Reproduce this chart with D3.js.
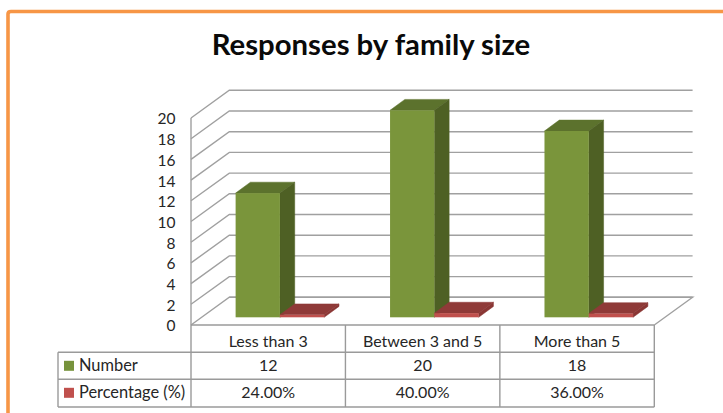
<!DOCTYPE html>
<html><head><meta charset="utf-8">
<script src="https://cdn.jsdelivr.net/npm/d3@7"></script>
<style>html,body{margin:0;padding:0;background:#fff;overflow:hidden}svg{display:block}text{font-family:Lato,"Open Sans",sans-serif;fill:#262626}</style>
</head><body><div id="c"></div>
<script>
const title = "Responses by family size";
const categories = ["Less than 3","Between 3 and 5","More than 5"];
const seriesNames = ["Number","Percentage (%)"];
const numberValues = [12,20,18];
const percentValues = [0.24,0.40,0.36];
const percentLabels = ["24.00%","40.00%","36.00%"];
const yTicks = [0,2,4,6,8,10,12,14,16,18,20];
const colors = {
  Number:{front:"#7a953b",top:"#5c722d",side:"#4e6024",legend:"#77933c"},
  "Percentage (%)":{front:"#c0504d",top:"#8f3a38",side:"#8a3634",legend:"#c0504d"}
};

const W=723,H=413;
const svg=d3.select("#c").append("svg").attr("width",W).attr("height",H);
// frame
svg.append("path").attr("d",`M8 ${H+5} L8 14 Q8 11.5 11 11.5 L${W+5} 11.5`)
  .attr("fill","none").attr("stroke","#f79646").attr("stroke-width",3.6);
svg.append("text").attr("x",371).attr("y",55).attr("text-anchor","middle")
  .attr("font-size",29.3).attr("font-weight",700).style("fill","#0a0a0a").text(title);

const y=d3.scaleLinear().domain([0,20]).range([325,118]);
const x=d3.scaleBand().domain(categories).range([191,654.3]);
const depthX=38.3,depthY=-27.7;
const grid="#a0a0a0";
const g=svg.append("g");

// walls & gridlines
yTicks.forEach(t=>{
  g.append("path").attr("d",`M191 ${y(t)} L${191+depthX} ${y(t)+depthY} L${654.3+depthX} ${y(t)+depthY}`)
   .attr("fill","none").attr("stroke",grid).attr("stroke-width",1.4);
});
g.append("path").attr("d",`M${191+depthX} ${y(0)+depthY} L${654.3+depthX} ${y(0)+depthY} L654.3 ${y(0)}`)
  .attr("fill","none").attr("stroke",grid).attr("stroke-width",1.4);
g.append("line").attr("x1",191).attr("x2",191).attr("y1",y(20)).attr("y2",y(0)).attr("stroke",grid).attr("stroke-width",1.4);

// bars
const series=[{name:"Number",values:numberValues},{name:"Percentage (%)",values:percentValues}];
const barW=44.3, offX=11.7, floorY=-7.7, bdx=14.8, bdy=-10.9;
const inner=d3.scaleBand().domain(seriesNames).range([-barW,barW]);
const bars=svg.append("g");
categories.forEach((c,i)=>{
  series.forEach(s=>{
    const v=s.values[i], col=colors[s.name];
    const xl=x(c)+x.bandwidth()/2+offX+inner(s.name);
    const xr=xl+inner.bandwidth();
    const yb=y(0)+floorY, yt=y(v)+floorY;
    const b=bars.append("g");
    b.append("path").attr("fill",col.top).attr("stroke",col.top).attr("stroke-width",.5)
      .attr("d",`M${xl} ${yt} L${xl+bdx} ${yt+bdy} L${xr+bdx} ${yt+bdy} L${xr} ${yt} Z`);
    b.append("path").attr("fill",col.side).attr("stroke",col.side).attr("stroke-width",.5)
      .attr("d",`M${xr} ${yt} L${xr+bdx} ${yt+bdy} L${xr+bdx} ${yb+bdy} L${xr} ${yb} Z`);
    b.append("rect").attr("x",xl).attr("y",yt).attr("width",xr-xl).attr("height",yb-yt).attr("fill",col.front);
  });
});

// y axis
const axis=svg.append("g").attr("transform","translate(175.5,1)")
  .call(d3.axisLeft(y).tickValues(yTicks).tickSize(0).tickPadding(0));
axis.select(".domain").remove();
axis.selectAll("text").attr("font-size",15.5).style("font-family","Lato,sans-serif");

// data table
const rows=[325,352.3,379.3,407], tLeft=58, tRight=654.3;
const line=(x1,y1,x2,y2)=>svg.append("line").attr("x1",x1).attr("y1",y1).attr("x2",x2).attr("y2",y2).attr("stroke","#9a9a9a").attr("stroke-width",1.4);
line(191,rows[0],tRight,rows[0]);
line(tLeft,rows[1],tRight,rows[1]);
line(tLeft,rows[2],tRight,rows[2]);
line(tLeft,rows[3],tRight,rows[3]);
line(tLeft,rows[1],tLeft,rows[3]);
[191,...categories.map(c=>x(c)+x.bandwidth())].forEach(px=>line(px,rows[0],px,rows[3]));

const cell=(px,py,t,a,fs)=>svg.append("text").attr("x",px).attr("y",py).attr("text-anchor",a||"middle").attr("font-size",fs||16).text(t);
categories.forEach((c,i)=>{
  const cx=x(c)+x.bandwidth()/2;
  cell(cx,rows[0]+22,c);
  cell(cx,rows[1]+18.5,numberValues[i]);
  cell(cx,rows[2]+18.5,percentLabels[i]);
});
seriesNames.forEach((n,i)=>{
  const top=rows[i+1];
  svg.append("rect").attr("x",64).attr("y",top+8.5).attr("width",10).attr("height",10).attr("fill",colors[n].legend);
  cell(79,top+18.5,n,"start",16.4);
});
</script></body></html>
